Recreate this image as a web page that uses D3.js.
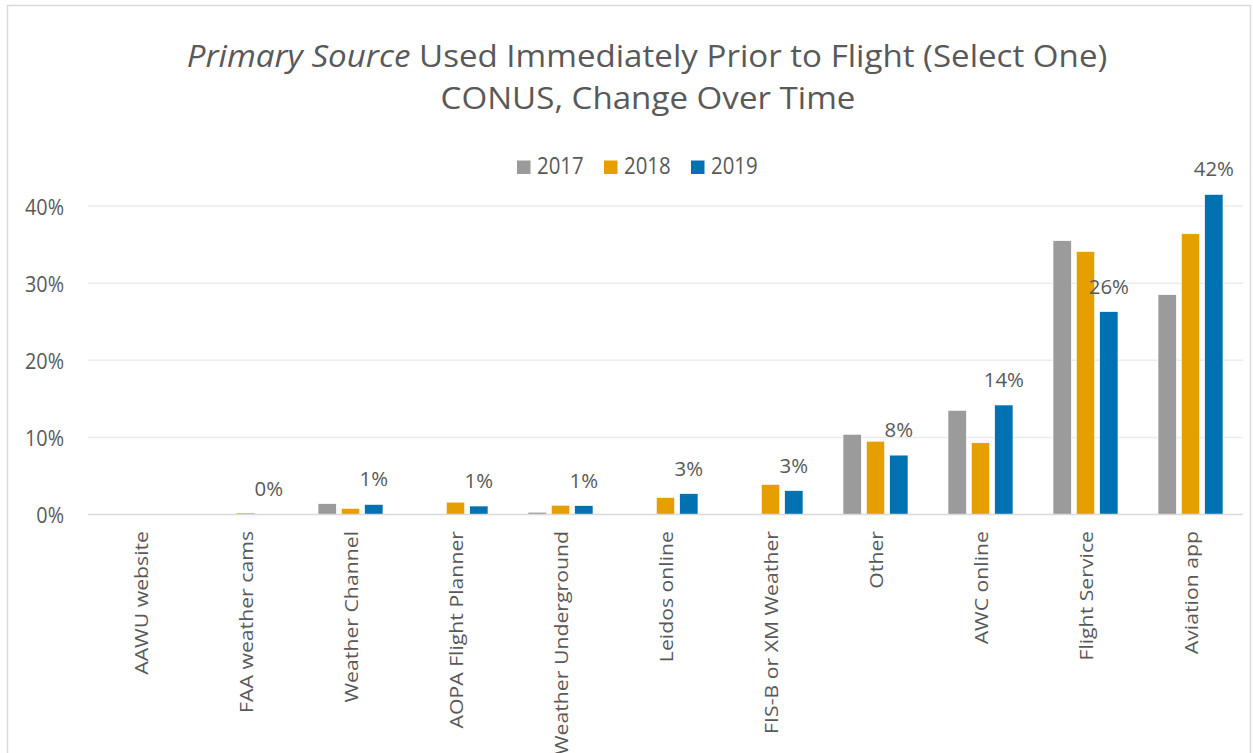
<!DOCTYPE html>
<html>
<head>
<meta charset="utf-8">
<script src="https://cdn.jsdelivr.net/npm/d3@7"></script>
<style>
  body { margin: 0; background: #fff; }
  svg text { font-family: "Open Sans", sans-serif; fill: #595959; }
</style>
</head>
<body>
<div id="chart"></div>
<script>
// Primary source used immediately prior to flight, grouped bars by year

const categories = ["AAWU website", "FAA weather cams", "Weather Channel", "AOPA Flight Planner",
  "Weather Underground", "Leidos online", "FIS-B or XM Weather", "Other", "AWC online",
  "Flight Service", "Aviation app"];
const years = ["2017", "2018", "2019"];
const values2017 = [0, 0, 1.4, 0, 0.3, 0, 0, 10.4, 13.5, 35.5, 28.5];
const values2018 = [0, 0.2, 0.8, 1.6, 1.2, 2.2, 3.9, 9.5, 9.3, 34.1, 36.4];
const values2019 = [0, 0.05, 1.3, 1.1, 1.15, 2.7, 3.1, 7.7, 14.2, 26.3, 41.5];
const labels2019 = [null, "0%", "1%", "1%", "1%", "3%", "3%", "8%", "14%", "26%", "42%"];
const yTicks = [0, 10, 20, 30, 40];
const colors = ["#9b9b9b", "#e69f00", "#0072b2"];

const W = 1253, H = 753;
const plot = {x0: 88, x1: 1243, y0: 514.5, y40: 206};
const stretch = 1.14; // text in the picture is a little taller than wide

const svg = d3.select("#chart").append("svg")
  .attr("width", W).attr("height", H);

// chart border
svg.append("rect")
  .attr("x", 7.5).attr("y", 5.5).attr("width", 1243).attr("height", 760)
  .attr("fill", "none").attr("stroke", "#d9d9d9").attr("stroke-width", 1.5);

// title, sized to the width it takes in the picture
const title = svg.append("text")
  .attr("text-anchor", "middle")
  .style("font-size", "28px");
title.append("tspan").style("font-style", "italic").text("Primary Source");
title.append("tspan").text(" Used Immediately Prior to Flight (Select One)");
const fs = 28 * 921 / title.node().getComputedTextLength();
title.style("font-size", fs + "px")
  .attr("transform", `translate(647,67) scale(1,${22.5 / (0.714 * fs)})`);
svg.append("text")
  .attr("text-anchor", "middle")
  .style("font-size", fs + "px")
  .attr("transform", `translate(648,109) scale(1,${22.5 / (0.714 * fs)})`)
  .text("CONUS, Change Over Time");

// scales
const x0 = d3.scaleBand().domain(categories).range([plot.x0, plot.x1]);
const x1 = d3.scaleBand().domain(years).range([-35, 35]);
const y = d3.scaleLinear().domain([0, 40]).range([plot.y0, plot.y40]);
const barW = 18.3;

// gridlines
svg.append("g")
  .selectAll("line")
  .data(yTicks.filter(d => d > 0))
  .enter().append("line")
    .attr("x1", plot.x0).attr("x2", plot.x1)
    .attr("y1", d => y(d)).attr("y2", d => y(d))
    .attr("stroke", "#ececec").attr("stroke-width", 1.5);

// y axis
const yAxis = svg.append("g")
  .attr("transform", `translate(${plot.x0},0)`)
  .call(d3.axisLeft(y).tickValues(yTicks).tickSize(0).tickPadding(0).tickFormat(d => d + "%"));
yAxis.select(".domain").remove();
yAxis.selectAll("text")
  .attr("x", null).attr("dy", null)
  .attr("transform", `translate(-24,8) scale(1,${stretch})`)
  .style("font-size", "19.8px").attr("fill", "#595959");

// bars
const series = [values2017, values2018, values2019];
const rows = categories.map((c, i) => ({cat: c, vals: years.map((yr, k) => ({year: yr, k: k, v: series[k][i]}))}));

const groups = svg.append("g").selectAll("g")
  .data(rows).enter().append("g")
    .attr("transform", d => `translate(${x0(d.cat) + x0.bandwidth() / 2},0)`);

groups.selectAll("rect")
  .data(d => d.vals.filter(e => e.v > 0))
  .enter().append("rect")
    .attr("x", d => x1(d.year) + (x1.bandwidth() - barW) / 2)
    .attr("width", barW)
    .attr("y", d => y(d.v))
    .attr("height", d => plot.y0 - y(d.v))
    .attr("fill", d => colors[d.k])
    .attr("stroke", "#fff").attr("stroke-width", 0.6);

// baseline
svg.append("line")
  .attr("x1", plot.x0).attr("x2", plot.x1)
  .attr("y1", plot.y0).attr("y2", plot.y0)
  .attr("stroke", "#d9d9d9").attr("stroke-width", 1.5);

// 2019 data labels
svg.append("g").selectAll("text")
  .data(categories.map((c, i) => ({cat: c, v: values2019[i], label: labels2019[i]})).filter(d => d.label))
  .enter().append("text")
    .attr("x", d => x0(d.cat) + x0.bandwidth() / 2 + x1("2019") + x1.bandwidth() / 2)
    .attr("y", d => y(d.v) - 18)
    .attr("text-anchor", "middle")
    .style("font-size", "20.4px")
    .text(d => d.label);

// category labels
svg.append("g").selectAll("text")
  .data(categories).enter().append("text")
    .attr("transform", d => `translate(${x0(d) + x0.bandwidth() / 2 + 7},531) scale(1,1.18) rotate(-90)`)
    .attr("text-anchor", "end")
    .style("font-size", "18px")
    .text(d => d);

// legend
const legend = svg.append("g").selectAll("g")
  .data(years).enter().append("g")
    .attr("transform", (d, i) => `translate(${517 + i * 87},160.5)`);
legend.append("rect")
  .attr("width", 13.5).attr("height", 13.5)
  .attr("fill", (d, i) => colors[i]);
legend.append("text")
  .attr("transform", `translate(20,13.5) scale(1,${stretch})`)
  .style("font-size", "20.4px")
  .text(d => d);
</script>
</body>
</html>
